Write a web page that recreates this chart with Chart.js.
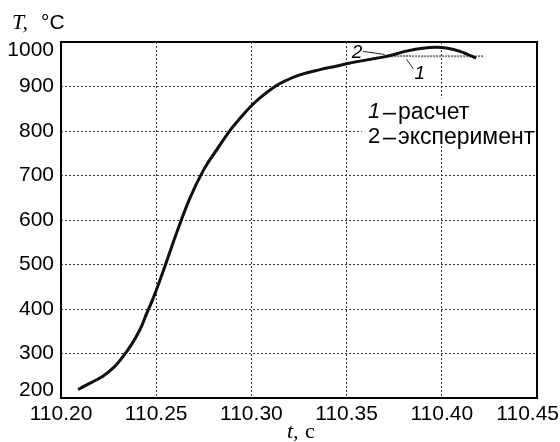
<!DOCTYPE html>
<html lang="ru">
<head>
<meta charset="UTF-8">
<title>T(t)</title>
<style>
  body { margin: 0; background: #fff; }
  #wrap { width: 560px; height: 442px; }
</style>
<script src="https://cdn.jsdelivr.net/npm/chart.js"></script>
</head>
<body>
<div id="wrap"><canvas id="tempChart" width="560" height="442"></canvas></div>
<script>
// эксперимент (2)
const expTime = [110.209, 110.215, 110.222, 110.228, 110.232, 110.237, 110.2415, 110.245, 110.2485,
  110.2546, 110.2607, 110.2677, 110.2747, 110.2817, 110.2887, 110.295, 110.2996, 110.305, 110.3124,
  110.318, 110.3254, 110.336, 110.345, 110.3499, 110.357, 110.3692, 110.375, 110.382, 110.39,
  110.397, 110.403, 110.4096, 110.414, 110.418];
const expTemp = [219, 233, 249, 270, 290, 320, 354, 390, 425,
  496, 571, 649, 711, 757, 801, 833, 855, 876, 900,
  913, 926, 938, 946, 951, 957, 966, 972, 980, 986,
  988, 986, 979, 971, 964];

// расчет (1)
const calcTime = [110.209, 110.222, 110.232, 110.2415, 110.2485, 110.2607, 110.2747, 110.2887,
  110.2996, 110.3124, 110.3254, 110.345, 110.357, 110.366, 110.375, 110.39, 110.405, 110.4217];
const calcTemp = [219, 249, 290, 354, 425, 571, 711, 801,
  855, 900, 926, 946, 957, 965, 968, 968, 968, 968];

const xTicks = [110.20, 110.25, 110.30, 110.35, 110.40, 110.45];
const yTicks = [200, 300, 400, 500, 600, 700, 800, 900, 1000];
const legendNums = ['1', '2'];
const legendNames = ['расчет', 'эксперимент'];

const sans = 'Arial, "Liberation Sans", sans-serif';
const serif = '"Times New Roman", "Liberation Serif", serif';

const toPoints = (xs, ys) => xs.map((x, i) => ({ x: x, y: ys[i] }));

// подписи, рамка, легенда
const decor = {
  id: 'decor',
  beforeDraw(chart) {
    const xs = chart.scales.x, ys = chart.scales.y;
    const xi = xs.getLabelItems(chart.chartArea);
    const last = xi[xi.length - 1];
    last.options.textAlign = 'right';
    last.options.translation[0] = chart.width - 1;
    const yi = ys.getLabelItems(chart.chartArea);
    yi[0].options.translation[1] = ys.getPixelForValue(yTicks[0]) - 8;
    yi[yi.length - 1].options.translation[1] = ys.getPixelForValue(yTicks[yTicks.length - 1]) + 8;
  },
  beforeDatasetsDraw(chart) {
    const ctx = chart.ctx, xs = chart.scales.x, ys = chart.scales.y;
    // белая подложка под легендой
    const x1 = xs.getPixelForValue(110.358), x2 = xs.getPixelForValue(110.446);
    const y1 = ys.getPixelForValue(873), y2 = ys.getPixelForValue(766);
    ctx.save();
    ctx.fillStyle = '#fff';
    ctx.fillRect(x1, y1, x2 - x1, y2 - y1);
    ctx.restore();
  },
  afterDraw(chart) {
    const ctx = chart.ctx, a = chart.chartArea, xs = chart.scales.x, ys = chart.scales.y;
    ctx.save();
    // рамка
    ctx.strokeStyle = '#000';
    ctx.lineWidth = 2;
    ctx.strokeRect(a.left, a.top, a.right - a.left, a.bottom - a.top);

    // легенда
    ctx.fillStyle = '#000';
    ctx.textBaseline = 'middle';
    ctx.textAlign = 'left';
    const lx = xs.getPixelForValue(110.3612);
    [843, 787].forEach((tv, i) => {
      const y = ys.getPixelForValue(tv);
      ctx.font = (i === 0 ? 'italic ' : '') + '22px ' + sans;
      ctx.fillText(legendNums[i], lx, y);
      ctx.fillRect(lx + 15, y + 1, 13, 1.6);
      ctx.font = '23px ' + sans;
      ctx.fillText(legendNames[i], lx + 30, y + 1);
    });

    // номера кривых с выносками
    ctx.strokeStyle = '#222';
    ctx.lineWidth = 1;
    ctx.beginPath();
    ctx.moveTo(xs.getPixelForValue(110.3585), ys.getPixelForValue(979));
    ctx.lineTo(xs.getPixelForValue(110.37), ys.getPixelForValue(972));
    ctx.moveTo(xs.getPixelForValue(110.3815), ys.getPixelForValue(961));
    ctx.lineTo(xs.getPixelForValue(110.385), ys.getPixelForValue(940));
    ctx.stroke();
    ctx.font = 'italic 19px ' + sans;
    ctx.textAlign = 'center';
    ctx.fillText('2', xs.getPixelForValue(110.3555), ys.getPixelForValue(976));
    ctx.fillText('1', xs.getPixelForValue(110.3885), ys.getPixelForValue(929));

    // заголовки осей
    ctx.textAlign = 'left';
    ctx.textBaseline = 'alphabetic';
    ctx.font = 'italic 22px ' + serif;
    ctx.fillText('T,', 12, 29);
    ctx.font = '21px ' + sans;
    ctx.fillText('°C', 41, 29);
    const cx = (a.left + a.right) / 2;
    ctx.font = 'italic 22px ' + serif;
    ctx.fillText('t,', cx - 12, 438);
    ctx.font = '22px ' + serif;
    ctx.fillText('c', cx + 6, 438);
    ctx.restore();
  }
};

const ctx = document.getElementById('tempChart').getContext('2d');
new Chart(ctx, {
  type: 'line',
  data: {
    datasets: [
      {
        label: 'эксперимент',
        data: toPoints(expTime, expTemp),
        borderColor: '#111',
        borderWidth: 3,
        pointRadius: 0,
        tension: 0.4
      },
      {
        label: 'расчет',
        data: toPoints(calcTime, calcTemp),
        borderColor: '#777',
        borderWidth: 2,
        borderDash: [2, 1],
        pointRadius: 0,
        tension: 0.4
      }
    ]
  },
  options: {
    responsive: false,
    devicePixelRatio: 1,
    animation: false,
    layout: { padding: { left: 0, right: 23, top: 42, bottom: 0 } },
    plugins: { legend: { display: false }, tooltip: { enabled: false } },
    scales: {
      x: {
        type: 'linear',
        min: 110.20,
        max: 110.45,
        afterBuildTicks: s => { s.ticks = xTicks.map(v => ({ value: v })); },
        afterFit: s => { s.height = 44; s.paddingLeft = 0; s.paddingRight = 0; },
        ticks: {
          callback: v => v.toFixed(2),
          color: '#000',
          font: { family: sans, size: 21 },
          padding: 4,
          maxRotation: 0
        },
        grid: { color: '#333', lineWidth: 1, drawTicks: false },
        border: { display: false, dash: [2, 2] }
      },
      y: {
        min: 200,
        max: 1000,
        afterBuildTicks: s => { s.ticks = yTicks.map(v => ({ value: v })); },
        afterFit: s => { s.width = 61; s.paddingTop = 0; s.paddingBottom = 0; },
        ticks: {
          callback: v => String(v),
          color: '#000',
          font: { family: sans, size: 21 },
          padding: 7
        },
        grid: { color: '#333', lineWidth: 1, drawTicks: false },
        border: { display: false, dash: [2, 2] }
      }
    }
  },
  plugins: [decor]
});
</script>
</body>
</html>
